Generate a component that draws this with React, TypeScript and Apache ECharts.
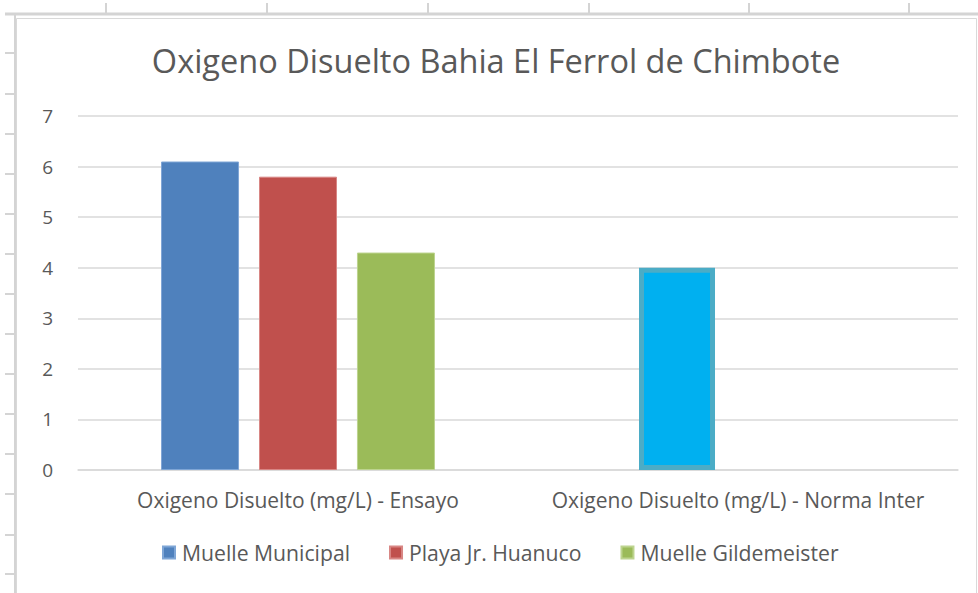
import React, { useEffect, useRef } from "react";
import * as echarts from "echarts";

const categories = ["Oxigeno Disuelto (mg/L) - Ensayo", "Oxigeno Disuelto (mg/L) - Norma Inter"];
const seriesNames = ["Muelle Municipal", "Playa Jr. Huanuco", "Muelle Gildemeister"];
const muelleMunicipal = [6.1, "-"];
const playaHuanuco = [5.8, "-"];
const muelleGildemeister = [4.3, "-"];
const normaInter = ["-", 4.0];
const yTicks = { min: 0, max: 7, interval: 1 };

const FONT = "Open Sans";
const TXT = "#595959";

export default function App() {
  const ref = useRef<HTMLDivElement>(null);
  useEffect(() => {
    const chart = echarts.init(ref.current!, null, { renderer: "svg" });
    const colLines = [106, 267, 428, 589, 749, 909].map((x) => ({
      type: "line",
      shape: { x1: x, y1: 3, x2: x, y2: 14 },
      style: { stroke: "#d4d4d4", lineWidth: 2 },
      silent: true,
    }));
    const rowTicks = [53, 94, 134, 174, 214, 254, 294, 334, 374, 414, 454, 494, 535, 574].map((y) => ({
      type: "line",
      shape: { x1: 5, y1: y, x2: 15, y2: y },
      style: { stroke: "#d4d4d4", lineWidth: 2 },
      silent: true,
    }));
    const option: any = {
      animation: false,
      backgroundColor: "#ffffff",
      textStyle: { fontFamily: FONT },
      graphic: [
        { type: "line", shape: { x1: 5, y1: 14, x2: 978, y2: 14 }, style: { stroke: "#d4d4d4", lineWidth: 3 }, silent: true },
        { type: "line", shape: { x1: 15, y1: 14, x2: 15, y2: 593 }, style: { stroke: "#d4d4d4", lineWidth: 2 }, silent: true },
        ...colLines,
        ...rowTicks,
        { type: "rect", shape: { x: 16.5, y: 18.5, width: 960, height: 600 }, style: { fill: "none", stroke: "#d9d9d9", lineWidth: 1 }, silent: true, z: -1 },
      ],
      title: {
        text: "Oxigeno Disuelto Bahia El Ferrol de Chimbote",
        left: 491,
        textAlign: "center",
        top: 39,
        textStyle: { fontFamily: FONT, fontSize: 32.5, fontWeight: "normal", color: TXT },
      },
      legend: {
        data: seriesNames,
        left: 157,
        top: 537,
        icon: "rect",
        itemWidth: 12,
        itemHeight: 12,
        itemGap: 39,
        textStyle: { fontFamily: FONT, fontSize: 21.2, color: TXT, padding: [0, 0, 0, 2] },
      },
      grid: { left: 78, right: 20, top: 116, bottom: 123, containLabel: false },
      xAxis: [
        {
          type: "category",
          data: categories,
          axisLine: { lineStyle: { color: "#d9d9d9", width: 1.5 } },
          axisTick: { show: false },
          axisLabel: { fontFamily: FONT, fontSize: 21, color: TXT, margin: 19, interval: 0, hideOverlap: false },
        },
        { type: "category", data: categories, show: false },
      ],
      yAxis: {
        type: "value",
        min: yTicks.min,
        max: yTicks.max,
        interval: yTicks.interval,
        axisLine: { show: false },
        axisTick: { show: false },
        splitLine: { lineStyle: { color: "#d9d9d9", width: 1.5 } },
        axisLabel: { fontFamily: FONT, fontSize: 19, color: TXT, margin: 25 },
      },
      series: [
        { name: seriesNames[0], type: "bar", data: muelleMunicipal, barWidth: 78, barGap: "25.6%", itemStyle: { color: "#4F81BD", borderColor: "#7FA6D6", borderWidth: 1 } },
        { name: seriesNames[1], type: "bar", data: playaHuanuco, barWidth: 78, barGap: "25.6%", itemStyle: { color: "#C0504D", borderColor: "#D88684", borderWidth: 1 } },
        { name: seriesNames[2], type: "bar", data: muelleGildemeister, barWidth: 78, barGap: "25.6%", itemStyle: { color: "#9BBB59", borderColor: "#BDD48F", borderWidth: 1 } },
        { name: "Norma Inter", type: "bar", xAxisIndex: 1, data: normaInter, barWidth: 76, barGap: "60.5%", itemStyle: { color: "#00B0F0", borderColor: "#4BACC6", borderWidth: 5 } },
        { name: "_spacer", type: "bar", xAxisIndex: 1, data: ["-", "-"], barWidth: 76, barGap: "60.5%", itemStyle: { color: "transparent" } },
      ],
    };
    chart.setOption(option);
    return () => chart.dispose();
  }, []);
  return (
    <div
      ref={ref}
      style={{ position: "fixed", left: 0, top: 0, width: 978, height: 593, background: "#fff" }}
    />
  );
}
